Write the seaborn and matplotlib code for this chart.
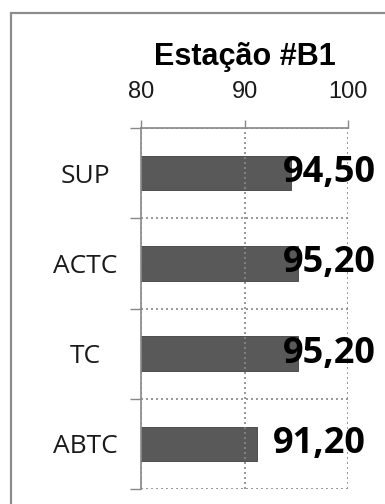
import matplotlib
matplotlib.use("Agg")
import matplotlib.pyplot as plt
from matplotlib.patches import Rectangle
from matplotlib.ticker import FixedLocator
import seaborn as sns
import pandas as pd

# Data
categories = ["SUP", "ACTC", "TC", "ABTC"]
values = [94.50, 95.20, 95.20, 91.20]
x_ticks = [80, 90, 100]
title = "Estação #B1"

df = pd.DataFrame({"categoria": categories, "valor": values})

sns.set_theme(style="white")
plt.rcParams["font.family"] = ["Open Sans", "DejaVu Sans"]

fig = plt.figure(figsize=(3.85, 5.04), dpi=100)
ax = fig.add_axes([141 / 385, 1 - 489 / 504, (348 - 141) / 385, (489 - 128) / 504])

sns.barplot(data=df, x="valor", y="categoria", orient="h", color="#595959",
            width=0.38, edgecolor="#404040", linewidth=0.6, saturation=1, ax=ax)

ax.set_xlim(80, 100)
ax.set_ylim(len(categories) - 0.5, -0.5)
ax.set_xlabel("")
ax.set_ylabel("")

# x axis on top
ax.xaxis.tick_top()
ax.set_xticks(x_ticks)
ax.set_xticklabels([str(t) for t in x_ticks], fontsize=17, family="Liberation Sans", color="#1a1a1a")
ax.tick_params(axis="x", which="major", direction="out", length=6, width=1, color="#888888", pad=12)

# y axis: labels centred, ticks at category boundaries
ax.yaxis.set_minor_locator(FixedLocator([i - 0.5 for i in range(len(categories) + 1)]))
ax.set_yticks(range(len(categories)))
ax.set_yticklabels(categories, fontsize=19, ha="center", color="#1a1a1a")
ax.tick_params(axis="y", which="major", length=0, pad=40)
ax.tick_params(axis="y", which="minor", direction="out", length=8, width=1, color="#888888", left=True)

# dotted grid
ax.grid(False)
ax.xaxis.grid(True, which="major", linestyle=(0, (1.2, 1.8)), color="#888888", linewidth=1.2)
ax.yaxis.grid(True, which="minor", linestyle=(0, (1.2, 1.8)), color="#888888", linewidth=1.2)
ax.set_axisbelow(False)
for b in ax.patches:
    b.set_zorder(1)

for side in ["right", "bottom"]:
    ax.spines[side].set_visible(False)
for side in ["left", "top"]:
    ax.spines[side].set_color("#888888")
    ax.spines[side].set_linewidth(1.2)
    ax.spines[side].set_zorder(3)

# value labels
for i, v in enumerate(values):
    ax.text(min(v + 1.55, 93.7), i, f"{v:.2f}".replace(".", ","), va="center", ha="left",
            fontsize=26, fontweight="bold", color="black", clip_on=False, zorder=4)

fig.text(245 / 385, 1 - 65 / 504, title, ha="center", va="baseline",
         fontsize=22, fontweight="bold", family="Liberation Sans", color="black")

# outer frame
fig.patches.append(Rectangle((10.5 / 385, -0.1), 1.2, (504 - 13) / 504 + 0.1,
                             transform=fig.transFigure, fill=False,
                             edgecolor="#8c8c8c", linewidth=1.6))

fig.savefig("out.png", dpi=100)
